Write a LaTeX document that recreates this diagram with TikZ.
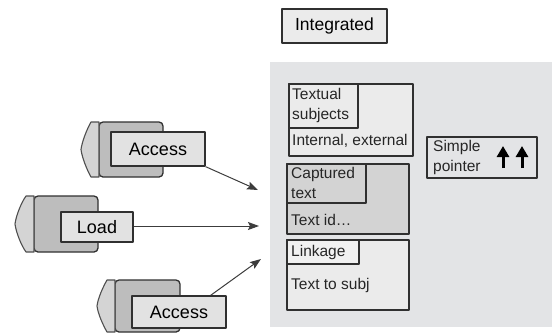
\documentclass[tikz,border=0pt]{standalone}
\usepackage{fontspec}
\setmainfont{Liberation Sans}
\usetikzlibrary{arrows.meta}
\definecolor{panel}{HTML}{E3E4E6}
\definecolor{edge}{HTML}{303030}
\definecolor{lightbox}{HTML}{EBEBEB}
\definecolor{midbox}{HTML}{D3D3D3}
\definecolor{hdrlight}{HTML}{F1F1F1}
\definecolor{labelbox}{HTML}{E2E2E2}
\definecolor{bodygrey}{HTML}{BDBDBD}
\definecolor{capgrey}{HTML}{D4D4D4}
\definecolor{arrowc}{HTML}{3C3C3C}
\newcommand\docshape[6]{% name, point x, body left, body right, top, bottom
  \coordinate (#1) at (#3,#5);
  \draw[bodystyle,rounded corners=4pt] (#3,#5) -- (#4,#5) -- (#4,#6) -- (#3,#6) -- cycle;
  \draw[capstyle] (#3,#5) -- (#3-8,#5)
     .. controls (#2+6,#5+7) and (#2+1,0.5*#5+0.5*#6-8) .. (#2,0.5*#5+0.5*#6)
     .. controls (#2+1,0.5*#5+0.5*#6+8) and (#2+6,#6-7) .. (#3-8,#6) -- (#3,#6) -- cycle;
}
\begin{document}
\begin{tikzpicture}[x=1pt,y=-1pt,line join=round,
  box/.style={draw=edge,line width=1.4pt,inner sep=0pt,rectangle},
  big/.style={font=\fontsize{18}{20}\selectfont},
  small/.style={font=\fontsize{15.5}{20}\selectfont,inner sep=0pt,align=left,anchor=west,text=black!85},
  capstyle/.style={draw=edge!85,line width=1.1pt,fill=capgrey},
  bodystyle/.style={draw=edge,line width=1.3pt,fill=bodygrey},
  conn/.style={draw=arrowc,line width=1pt,-{Stealth[length=11pt,width=8pt,inset=2pt]}},
  upar/.style={draw=black,line width=3pt,-{Triangle[length=11pt,width=12pt]}}]
\useasboundingbox (0,0) rectangle (554,333);

% top label
\node[box,fill=lightbox,minimum width=105pt,minimum height=34pt,font=\fontsize{17.5}{20}\selectfont] (integ) at (334.5,26) {Integrated};

% panel
\node[fill=panel,inner sep=0pt,minimum width=282pt,minimum height=265pt] (panel) at (411,194.5) {};

% textual subjects
\node[box,fill=lightbox,minimum width=124pt,minimum height=72pt] (ts) at (351,120) {};
\node[box,fill=lightbox,minimum width=69pt,minimum height=44pt] (tsh) at (323.5,106) {};
\node[small] (tst) at (292,105) {Textual\\subjects};
\node[small] (tsb) at (292,141) {Internal, external};

% captured text
\node[box,fill=midbox,minimum width=122pt,minimum height=70pt] (ct) at (348,199) {};
\node[box,fill=midbox,minimum width=79pt,minimum height=39pt] (cth) at (326.5,183.5) {};
\node[small] (ctt) at (291,183) {Captured\\text};
\node[small] (ctb) at (291,220) {Text id\dots};

% linkage
\node[box,fill=lightbox,minimum width=122pt,minimum height=70pt] (lk) at (348,275) {};
\node[box,fill=hdrlight,minimum width=72pt,minimum height=24pt] (lkh) at (323,252) {};
\node[small] (lkt) at (291,252) {Linkage};
\node[small] (lkb) at (291,285) {Text to subj};

% simple pointer
\node[box,fill=panel,minimum width=110pt,minimum height=41pt] (sp) at (482,157.5) {};
\node[small] (spt) at (433,157) {Simple\\pointer};
\coordinate (p1b) at (503,168);
\coordinate (p1t) at (503,146);
\coordinate (p2b) at (522,168);
\coordinate (p2t) at (522,146);
\draw[upar] (p1b) -- (p1t);
\draw[upar] (p2b) -- (p2t);

% sources
\docshape{s1}{81}{99}{163}{122}{177}
\node[box,fill=labelbox,minimum width=94pt,minimum height=34pt,big] (a1) at (158,149) {Access};
\docshape{s2}{15}{34}{98}{196}{252}
\node[box,fill=labelbox,minimum width=72pt,minimum height=30pt,big] (ld) at (97,227) {Load};
\docshape{s3}{97}{115}{180}{280}{332}
\node[box,fill=labelbox,minimum width=94pt,minimum height=32pt,big] (a2) at (179,312) {Access};

% connectors
\coordinate (t1) at (258,190);
\coordinate (t2) at (259,226);
\coordinate (t3) at (261,259);
\draw[conn] (a1.south east) -- (t1);
\draw[conn] (ld.east |- t2) -- (t2);
\draw[conn] ([xshift=-16pt]a2.north east) -- (t3);
\end{tikzpicture}
\end{document}
